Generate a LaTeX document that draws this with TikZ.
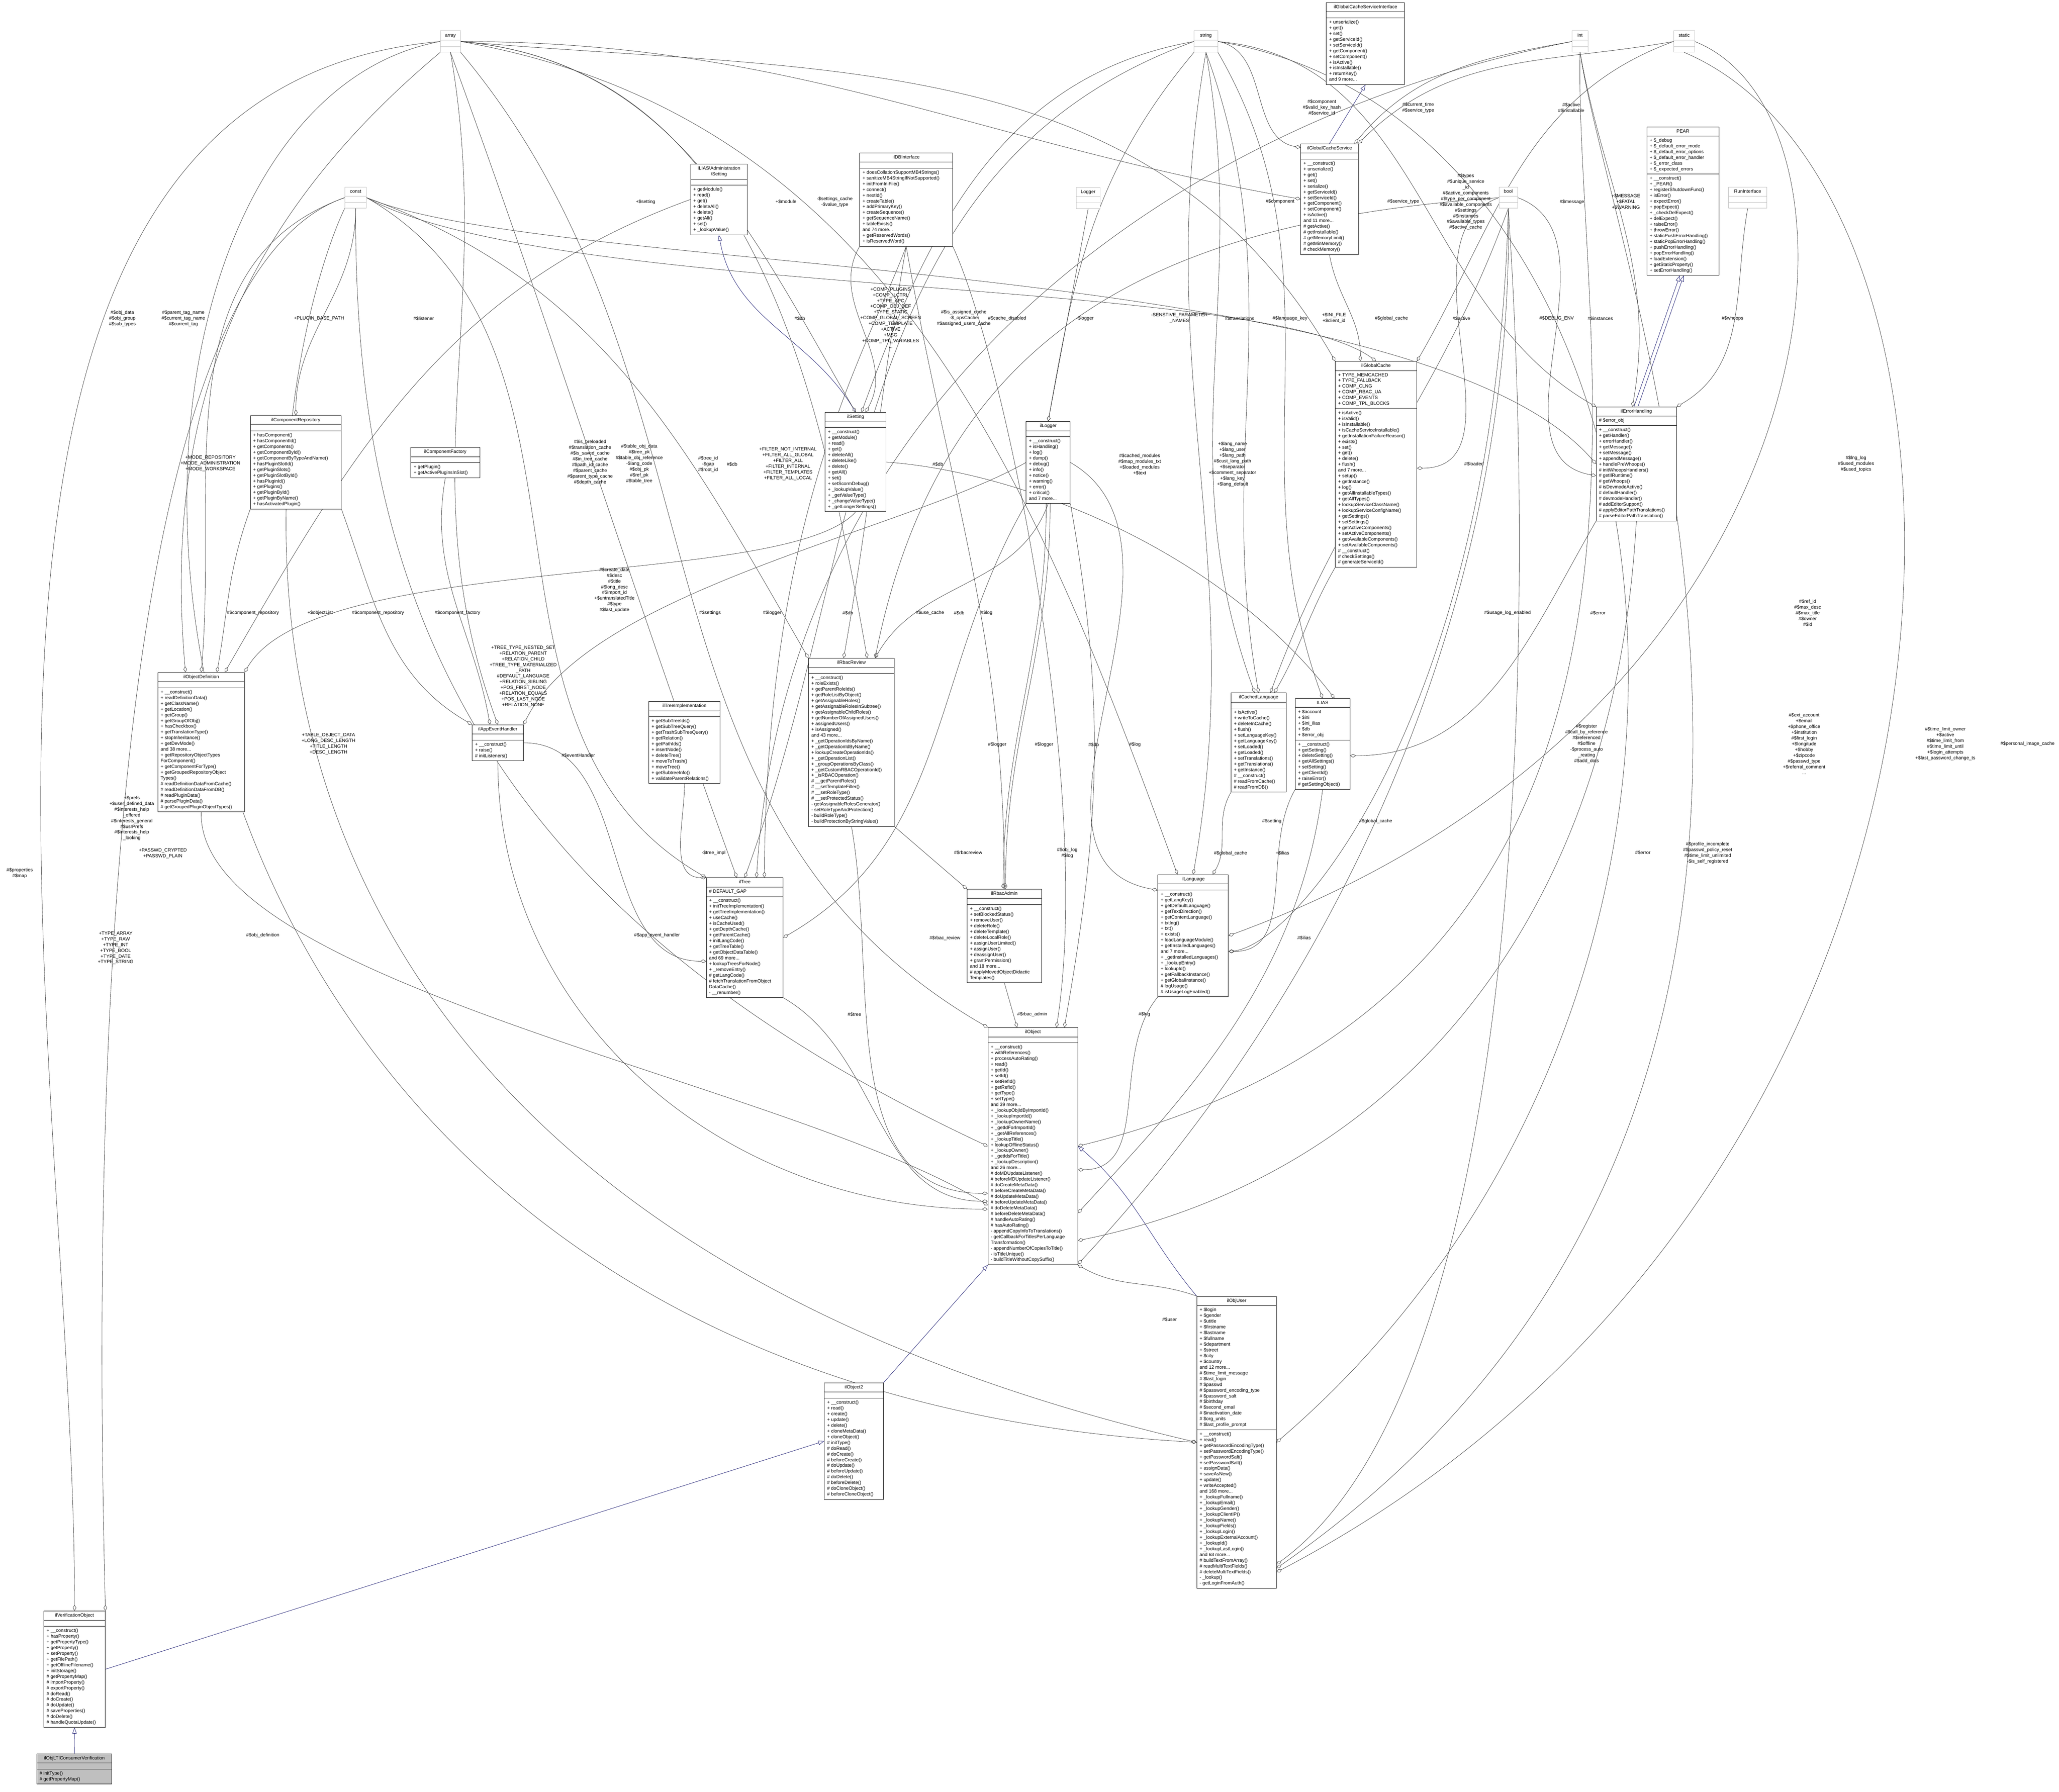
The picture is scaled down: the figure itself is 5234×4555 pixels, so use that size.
\documentclass[tikz,border=0pt]{standalone}
\usepackage{fontspec}
\setmainfont{Liberation Sans}
\usetikzlibrary{shapes.multipart,arrows.meta,backgrounds}
\definecolor{inhcol}{RGB}{25,25,112}
\definecolor{edgecol}{RGB}{64,64,64}
\definecolor{typecol}{RGB}{191,191,191}
\newcommand\ttl[1]{\begin{tabular}{@{}c@{}}#1\end{tabular}}
\newcommand\lst[1]{\begin{tabular}{@{}l@{}}#1\end{tabular}}
\newcommand\umlc[8][]{\node[cbox,#1,minimum width=#4*0.2pt] (#2) at (#3) {\ttl{#5}\nodepart{two}\lst{#6}\nodepart{three}\lst{#7#8}};}
\newcommand\typeb[4]{\node[cbox,draw=typecol,minimum width=#3*0.2pt] (#1) at (#2) {\ttl{#4}\nodepart{two}\lst{}\nodepart{three}\lst{}};}
\tikzset{
  cbox/.style={rectangle split,rectangle split parts=3,rectangle split part align={center,left,left},
    draw=black,line width=0.2pt,fill=white,anchor=north west,inner xsep=1.4pt,inner ysep=0.8pt,
    font=\fontsize{2.4}{2.92}\selectfont},
  lbl/.style={align=center,font=\fontsize{2.4}{2.92}\selectfont,inner sep=0.2pt},
  agg/.style={draw=edgecol,line width=0.18pt,-{Diamond[open,length=3pt,width=1.8pt]}},
  inh/.style={draw=inhcol,line width=0.18pt,-{Triangle[open,length=3pt,width=2.2pt]}}
}
\begin{document}
\begin{tikzpicture}[x=0.2pt,y=-0.2pt]
\useasboundingbox (0,0) rectangle (5234,4555);
% type boxes
\typeb{array}{1119,78}{51}{array}
\typeb{const}{876,475}{55}{const}
\typeb{string}{3035,78}{60}{string}
\typeb{int}{3996,78}{40}{int}
\typeb{static}{4254,78}{53}{static}
\typeb{bool}{3810,475}{47}{bool}
\typeb{Logger}{2735,476}{61}{Logger}
\typeb{RunInterface}{4393,475}{98}{RunInterface}
% classes
\umlc{gcsi}{3371,6}{199}{ilGlobalCacheServiceInterface}{}{+ unserialize()\\+ get()\\+ set()\\+ getServiceId()\\+ setServiceId()\\+ getComponent()\\+ setComponent()\\+ isActive()\\+ isInstallable()\\+ returnKey()\\and 9 more...}{}
\umlc{admset}{1755,417}{144}{ILIAS\textbackslash Administration\\\textbackslash Setting}{}{+ getModule()\\+ read()\\+ get()\\+ deleteAll()\\+ delete()\\+ getAll()\\+ set()\\+ \_lookupValue()}{}
\umlc{db}{2185,388}{236}{ilDBInterface}{}{+ doesCollationSupportMB4Strings()\\+ sanitizeMB4StringIfNotSupported()\\+ initFromIniFile()\\+ connect()\\+ nextId()\\+ createTable()\\+ addPrimaryKey()\\+ createSequence()\\+ getSequenceName()\\+ tableExists()\\and 74 more...\\+ getReservedWords()\\+ isReservedWord()}{}
\umlc{gcs}{3306,365}{146}{ilGlobalCacheService}{}{+ \_\_construct()\\+ unserialize()\\+ get()\\+ set()\\+ serialize()\\+ getServiceId()\\+ setServiceId()\\+ getComponent()\\+ setComponent()\\+ isActive()\\and 11 more...\\\# getActive()\\\# getInstallable()\\\# getMemoryLimit()\\\# getMinMemory()\\\# checkMemory()}{}
\umlc{pear}{4186,322}{183}{PEAR}{+ \$\_debug\\+ \$\_default\_error\_mode\\+ \$\_default\_error\_options\\+ \$\_default\_error\_handler\\+ \$\_error\_class\\+ \$\_expected\_errors}{+ \_\_construct()\\+ \_PEAR()\\+ registerShutdownFunc()\\+ isError()\\+ expectError()\\+ popExpect()\\+ \_checkDelExpect()\\+ delExpect()\\+ raiseError()\\+ throwError()\\+ staticPushErrorHandling()\\+ staticPopErrorHandling()\\+ pushErrorHandling()\\+ popErrorHandling()\\+ loadExtension()\\+ getStaticProperty()\\+ setErrorHandling()}{}
\umlc{setting}{2097,1048}{155}{ilSetting}{}{+ \_\_construct()\\+ getModule()\\+ read()\\+ get()\\+ deleteAll()\\+ deleteLike()\\+ delete()\\+ getAll()\\+ set()\\+ setScormDebug()\\+ \_lookupValue()\\+ \_getValueType()\\+ \_changeValueType()\\+ \_getLongerSettings()}{}
\umlc{gc}{3394,918}{207}{ilGlobalCache}{+ TYPE\_MEMCACHED\\+ TYPE\_FALLBACK\\+ COMP\_CLNG\\+ COMP\_RBAC\_UA\\+ COMP\_EVENTS\\+ COMP\_TPL\_BLOCKS}{+ isActive()\\+ isValid()\\+ isInstallable()\\+ isCacheServiceInstallable()\\+ getInstallationFailureReason()\\+ exists()\\+ set()\\+ get()\\+ delete()\\+ flush()\\and 7 more...\\+ setup()\\+ getInstance()\\+ log()\\+ getAllInstallableTypes()\\+ getAllTypes()\\}{+ lookupServiceClassName()\\+ lookupServiceConfigName()\\+ getSettings()\\+ setSettings()\\+ getActiveComponents()\\+ setActiveComponents()\\+ getAvailableComponents()\\+ setAvailableComponents()\\\# \_\_construct()\\\# checkSettings()\\\# generateServiceId()}
\umlc{logger}{2608,1071}{112}{ilLogger}{}{+ \_\_construct()\\+ isHandling()\\+ log()\\+ dump()\\+ debug()\\+ info()\\+ notice()\\+ warning()\\+ error()\\+ critical()\\and 7 more...}{}
\umlc{err}{4057,1034}{204}{ilErrorHandling}{\# \$error\_obj}{+ \_\_construct()\\+ getHandler()\\+ errorHandler()\\+ getMessage()\\+ setMessage()\\+ appendMessage()\\+ handlePreWhoops()\\\# initWhoopsHandlers()\\\# getIlRuntime()\\\# getWhoops()\\\# isDevmodeActive()\\\# defaultHandler()\\\# devmodeHandler()\\\# addEditorSupport()\\\# applyEditorPathTranslations()\\\# parseEditorPathTranslation()}{}
\umlc{comprepo}{636,1056}{231}{ilComponentRepository}{}{+ hasComponent()\\+ hasComponentId()\\+ getComponents()\\+ getComponentById()\\+ getComponentByTypeAndName()\\+ hasPluginSlotId()\\+ getPluginSlots()\\+ getPluginSlotById()\\+ hasPluginId()\\+ getPlugins()\\+ getPluginById()\\+ getPluginByName()\\+ hasActivatedPlugin()}{}
\umlc{compfac}{1044,1137}{175}{ilComponentFactory}{}{+ getPlugin()\\+ getActivePluginsInSlot()}{}
\umlc{objdef}{401,1709}{220}{ilObjectDefinition}{}{+ \_\_construct()\\+ readDefinitionData()\\+ getClassName()\\+ getLocation()\\+ getGroup()\\+ getGroupOfObj()\\+ hasCheckbox()\\+ getTranslationType()\\+ stopInheritance()\\+ getDevMode()\\and 38 more...\\+ getRepositoryObjectTypes\\ForComponent()\\+ getComponentForType()\\}{+ getGroupedRepositoryObject\\Types()\\\# readDefinitionDataFromCache()\\\# readDefinitionDataFromDB()\\\# readPluginData()\\\# parsePluginData()\\\# getGroupedPluginObjectTypes()}
\umlc{aeh}{1200,1842}{130}{ilAppEventHandler}{}{+ \_\_construct()\\+ raise()\\\# initListeners()}{}
\umlc{treeimpl}{1649,1783}{181}{ilTreeImplementation}{}{+ getSubTreeIds()\\+ getSubTreeQuery()\\+ getTrashSubTreeQuery()\\+ getRelation()\\+ getPathIds()\\+ insertNode()\\+ deleteTree()\\+ moveToTrash()\\+ moveTree()\\+ getSubtreeInfo()\\+ validateParentRelations()}{}
\umlc{rbacrev}{2055,1673}{218}{ilRbacReview}{}{+ \_\_construct()\\+ roleExists()\\+ getParentRoleIds()\\+ getRoleListByObject()\\+ getAssignableRoles()\\+ getAssignableRolesInSubtree()\\+ getAssignableChildRoles()\\+ getNumberOfAssignedUsers()\\+ assignedUsers()\\+ isAssigned()\\and 43 more...\\+ \_getOperationIdsByName()\\+ \_getOperationIdByName()\\+ lookupCreateOperationIds()\\}{+ \_getOperationList()\\+ \_groupOperationsByClass()\\+ \_getCustomRBACOperationId()\\+ \_isRBACOperation()\\\# \_\_getParentRoles()\\\# \_\_setTemplateFilter()\\\# \_\_setRoleType()\\\# \_\_setProtectedStatus()\\- getAssignableRolesGenerator()\\- setRoleTypeAndProtection()\\- buildRoleType()\\- buildProtectionByStringValue()}
\umlc{clang}{3129,1761}{140}{ilCachedLanguage}{}{+ isActive()\\+ writeToCache()\\+ deleteInCache()\\+ flush()\\+ setLanguageKey()\\+ getLanguageKey()\\+ setLoaded()\\+ getLoaded()\\+ setTranslations()\\+ getTranslations()\\+ getInstance()\\\# \_\_construct()\\\# readFromCache()\\\# readFromDB()}{}
\umlc{ilias}{3292,1775}{139}{ILIAS}{+ \$account\\+ \$ini\\+ \$ini\_ilias\\+ \$db\\+ \$error\_obj}{+ \_\_construct()\\+ getSetting()\\+ deleteSetting()\\+ getAllSettings()\\+ setSetting()\\+ getClientId()\\+ raiseError()\\\# getSettingObject()}{}
\umlc{tree}{1795,2231}{195}{ilTree}{\# DEFAULT\_GAP}{+ \_\_construct()\\+ initTreeImplementation()\\+ getTreeImplementation()\\+ useCache()\\+ isCacheUsed()\\+ getDepthCache()\\+ getParentCache()\\+ initLangCode()\\+ getTreeTable()\\+ getObjectDataTable()\\and 69 more...\\+ lookupTreesForNode()\\+ \_removeEntry()\\}{\# getLangCode()\\\# fetchTranslationFromObject\\DataCache()\\- \_\_renumber()}
\umlc{rbacadm}{2458,2260}{189}{ilRbacAdmin}{}{+ \_\_construct()\\+ setBlockedStatus()\\+ removeUser()\\+ deleteRole()\\+ deleteTemplate()\\+ deleteLocalRole()\\+ assignUserLimited()\\+ assignUser()\\+ deassignUser()\\+ grantPermission()\\and 18 more...\\\# applyMovedObjectDidactic\\Templates()}{}
\umlc{lang}{2943,2223}{179}{ilLanguage}{}{+ \_\_construct()\\+ getLangKey()\\+ getDefaultLanguage()\\+ getTextDirection()\\+ getContentLanguage()\\+ txtlng()\\+ txt()\\+ exists()\\+ loadLanguageModule()\\+ getInstalledLanguages()\\and 7 more...\\+ \_getInstalledLanguages()\\+ \_lookupEntry()\\+ lookupId()\\}{+ getFallbackInstance()\\+ getGlobalInstance()\\\# logUsage()\\\# isUsageLogEnabled()}
\umlc{obj}{2511,2612}{228}{ilObject}{}{+ \_\_construct()\\+ withReferences()\\+ processAutoRating()\\+ read()\\+ getId()\\+ setId()\\+ setRefId()\\+ getRefId()\\+ getType()\\+ setType()\\and 39 more...\\+ \_lookupObjIdByImportId()\\+ \_lookupImportId()\\+ \_lookupOwnerName()\\+ \_getIdForImportId()\\+ \_getAllReferences()\\+ \_lookupTitle()\\+ lookupOfflineStatus()\\+ \_lookupOwner()\\}{+ \_getIdsForTitle()\\+ \_lookupDescription()\\and 26 more...\\\# doMDUpdateListener()\\\# beforeMDUpdateListener()\\\# doCreateMetaData()\\\# beforeCreateMetaData()\\\# doUpdateMetaData()\\\# beforeUpdateMetaData()\\\# doDeleteMetaData()\\\# beforeDeleteMetaData()\\\# handleAutoRating()\\\# hasAutoRating()\\- appendCopyInfoToTranslations()\\- getCallbackForTitlesPerLanguage\\Transformation()\\- appendNumberOfCopiesToTitle()\\- isTitleUnique()\\- buildTitleWithoutCopySuffix()}
\umlc{objtwo}{2095,3515}{150}{ilObject2}{}{+ \_\_construct()\\+ read()\\+ create()\\+ update()\\+ delete()\\+ cloneMetaData()\\+ cloneObject()\\\# initType()\\\# doRead()\\\# doCreate()\\\# beforeCreate()\\\# doUpdate()\\\# beforeUpdate()\\\# doDelete()\\\# beforeDelete()\\\# doCloneObject()\\\# beforeCloneObject()}{}
\umlc{user}{3042,3295}{202}{ilObjUser}{+ \$login\\+ \$gender\\+ \$utitle\\+ \$firstname\\+ \$lastname\\+ \$fullname\\+ \$department\\+ \$street\\+ \$city\\+ \$country\\and 12 more...\\\# \$time\_limit\_message\\\# \$last\_login\\\# \$passwd\\\# \$password\_encoding\_type\\\# \$password\_salt\\\# \$birthday\\\# \$second\_email\\\# \$inactivation\_date\\\# \$org\_units\\\# \$last\_profile\_prompt}{+ \_\_construct()\\+ read()\\+ getPasswordEncodingType()\\+ setPasswordEncodingType()\\+ getPasswordSalt()\\+ setPasswordSalt()\\+ assignData()\\+ saveAsNew()\\+ update()\\+ writeAccepted()\\and 168 more...\\+ \_lookupFullname()\\+ \_lookupEmail()\\}{+ \_lookupGender()\\+ \_lookupClientIP()\\+ \_lookupName()\\+ \_lookupFields()\\+ \_lookupLogin()\\+ \_lookupExternalAccount()\\+ \_lookupId()\\+ \_lookupLastLogin()\\and 63 more...\\\# buildTextFromArray()\\\# readMultiTextFields()\\\# deleteMultiTextFields()\\- \_lookup()\\- getLoginFromAuth()}
\umlc{verif}{111,4095}{156}{ilVerificationObject}{}{+ \_\_construct()\\+ hasProperty()\\+ getPropertyType()\\+ getProperty()\\+ setProperty()\\+ getFilePath()\\+ getOfflineFilename()\\+ initStorage()\\\# getPropertyMap()\\\# importProperty()\\\# exportProperty()\\\# doRead()\\\# doCreate()\\\# doUpdate()\\\# saveProperties()\\\# doDelete()\\\# handleQuotaUpdate()}{}
\umlc[fill=typecol]{lti}{93,4458}{191}{ilObjLTIConsumerVerification}{}{\# initType()\\\# getPropertyMap()}{}
% labels
\node[lbl] at (311,810) {\#\$obj\_data\\\#\$obj\_group\\\#\$sub\_types};
\node[lbl] at (466,810) {\#\$parent\_tag\_name\\\#\$current\_tag\_name\\\#\$current\_tag};
\node[lbl] at (811,810) {+PLUGIN\_BASE\_PATH};
\node[lbl] at (1077,810) {\#\$listener};
\node[lbl] at (1641,513) {+\$setting};
\node[lbl] at (1998,513) {+\$module};
\node[lbl] at (2122,513) {-\$settings\_cache\\-\$value\_type};
\node[lbl] at (2033,810) {\#\$db};
\node[lbl] at (2264,808) {+COMP\_PLUGINS\\+COMP\_ILCTRL\\+TYPE\_APC\\+COMP\_OBJ\_DEF\\+TYPE\_STATIC\\+COMP\_GLOBAL\_SCREEN\\+COMP\_TEMPLATE\\+ACTIVE\\+MSG\\+COMP\_TPL\_VARIABLES\\...};
\node[lbl] at (2450,809) {\#\$is\_assigned\_cache\\-\$\_opsCache\\\#\$assigned\_users\_cache};
\node[lbl] at (2560,810) {\#\$cache\_disabled};
\node[lbl] at (2758,810) {-\$logger};
\node[lbl] at (2998,809) {-SENSTIVE\_PARAMETER\\\_NAMES};
\node[lbl] at (3151,810) {\#\$translations};
\node[lbl] at (3279,810) {\#\$language\_key};
\node[lbl] at (3391,809) {+\$INI\_FILE\\+\$client\_id};
\node[lbl] at (3537,810) {\#\$global\_cache};
\node[lbl] at (3715,810) {\#\$active};
\node[lbl] at (3957,810) {\#\$DEBUG\_ENV};
\node[lbl] at (4068,810) {\#\$instances};
\node[lbl] at (4404,810) {\#\$whoops};
\node[lbl] at (3360,274) {\#\$component\\\#\$valid\_key\_hash\\\#\$service\_id};
\node[lbl] at (3605,274) {\#\$current\_time\\\#\$service\_type};
\node[lbl] at (3994,274) {\#\$active\\\#\$installable};
\node[lbl] at (3254,512) {\#\$component};
\node[lbl] at (3567,512) {\#\$service\_type};
\node[lbl] at (3726,513) {\#\$types\\\#\$unique\_service\\\_id\\\#\$active\_components\\\#\$type\_per\_component\\\#\$available\_components\\\#\$settings\\\#\$instances\\\#\$available\_types\\\#\$active\_cache};
\node[lbl] at (3996,513) {\#\$message};
\node[lbl] at (4133,513) {+\$MESSAGE\\+\$FATAL\\+\$WARNING};
\node[lbl] at (535,1178) {+MODE\_REPOSITORY\\+MODE\_ADMINISTRATION\\+MODE\_WORKSPACE};
\node[lbl] at (1500,1175) {\#\$is\_preloaded\\\#\$translation\_cache\\\#\$is\_saved\_cache\\\#\$in\_tree\_cache\\\#\$path\_id\_cache\\\#\$parent\_cache\\\#\$parent\_type\_cache\\\#\$depth\_cache};
\node[lbl] at (1625,1179) {\#\$table\_obj\_data\\\#\$tree\_pk\\\#\$table\_obj\_reference\\-\$lang\_code\\\#\$obj\_pk\\\#\$ref\_pk\\\#\$table\_tree};
\node[lbl] at (1800,1180) {\#\$tree\_id\\-\$gap\\\#\$root\_id};
\node[lbl] at (1861,1180) {\#\$db};
\node[lbl] at (2003,1179) {+FILTER\_NOT\_INTERNAL\\+FILTER\_ALL\_GLOBAL\\+FILTER\_ALL\\+FILTER\_INTERNAL\\+FILTER\_TEMPLATES\\+FILTER\_ALL\_LOCAL};
\node[lbl] at (2384,1180) {\#\$db};
\node[lbl] at (2897,1180) {\#\$cached\_modules\\\#\$map\_modules\_txt\\+\$loaded\_modules\\+\$text};
\node[lbl] at (3133,1180) {+\$lang\_name\\+\$lang\_user\\+\$lang\_path\\\#\$cust\_lang\_path\\+\$separator\\+\$comment\_separator\\+\$lang\_key\\+\$lang\_default};
\node[lbl] at (3747,1179) {\#\$loaded};
\node[lbl] at (4718,1179) {\#\$lng\_log\\\#\$used\_modules\\\#\$used\_topics};
\node[lbl] at (643,1558) {\#\$component\_repository};
\node[lbl] at (814,1558) {+\$objectList};
\node[lbl] at (961,1558) {\#\$component\_repository};
\node[lbl] at (1163,1558) {\#\$component\_factory};
\node[lbl] at (1330,1720) {+TREE\_TYPE\_NESTED\_SET\\+RELATION\_PARENT\\+RELATION\_CHILD\\+TREE\_TYPE\_MATERIALIZED\\\_PATH\\\#DEFAULT\_LANGUAGE\\+RELATION\_SIBLING\\+POS\_FIRST\_NODE\\+RELATION\_EQUALS\\+POS\_LAST\_NODE\\+RELATION\_NONE};
\node[lbl] at (1562,1500) {\#\$create\_date\\\#\$desc\\\#\$title\\\#\$long\_desc\\\#\$import\_id\\+\$untranslatedTitle\\\#\$type\\\#\$last\_update};
\node[lbl] at (1805,1558) {\#\$settings};
\node[lbl] at (1963,1558) {\#\$logger};
\node[lbl] at (2155,1558) {\#\$db};
\node[lbl] at (2364,1558) {\#\$use\_cache};
\node[lbl] at (2438,1558) {\#\$db};
\node[lbl] at (2508,1558) {\#\$log};
\node[lbl] at (3832,1558) {\#\$usage\_log\_enabled};
\node[lbl] at (4062,1558) {\#\$error};
\node[lbl] at (4595,1558) {\#\$ref\_id\\\#\$max\_desc\\\#\$max\_title\\\#\$owner\\\#\$id};
\node[lbl] at (835,1891) {+TABLE\_OBJECT\_DATA\\+LONG\_DESC\_LENGTH\\+TITLE\_LENGTH\\+DESC\_LENGTH};
\node[lbl] at (1470,1920) {\#\$eventHandler};
\node[lbl] at (2535,1893) {\#\$logger};
\node[lbl] at (2654,1893) {\#\$logger};
\node[lbl] at (2780,1893) {\#\$db};
\node[lbl] at (2885,1893) {\#\$log};
\node[lbl] at (4033,1891) {\#\$register\\\#\$call\_by\_reference\\\#\$referenced\\\#\$offline\\-\$process\_auto\\\_reating\\\#\$add\_dots};
\node[lbl] at (4586,1891) {\#\$ext\_account\\+\$email\\+\$phone\_office\\+\$institution\\\#\$first\_login\\+\$longitude\\+\$hobby\\+\$zipcode\\\#\$passwd\_type\\+\$referral\_comment\\...};
\node[lbl] at (4945,1891) {\#\$time\_limit\_owner\\+\$active\\\#\$time\_limit\_from\\\#\$time\_limit\_until\\+\$login\_attempts\\+\$last\_password\_change\_ts};
\node[lbl] at (5154,1891) {\#\$personal\_image\_cache};
\node[lbl] at (335,2080) {+\$prefs\\+\$user\_defined\_data\\\#\$interests\_help\\\_offered\\\#\$interests\_general\\\#\$usrPrefs\\\#\$interests\_help\\\_looking};
\node[lbl] at (414,2170) {+PASSWD\_CRYPTED\\+PASSWD\_PLAIN};
\node[lbl] at (50,2220) {\#\$properties\\\#\$map};
\node[lbl] at (294,2410) {+TYPE\_ARRAY\\+TYPE\_RAW\\+TYPE\_INT\\+TYPE\_BOOL\\+TYPE\_DATE\\+TYPE\_STRING};
\node[lbl] at (1814,2168) {-\$tree\_impl};
\node[lbl] at (2461,2168) {\#\$rbacreview};
\node[lbl] at (2713,2168) {\#\$obj\_log\\\#\$log};
\node[lbl] at (3128,2169) {\#\$global\_cache};
\node[lbl] at (3260,2169) {+\$ilias};
\node[lbl] at (3233,2088) {\#\$setting};
\node[lbl] at (3497,2088) {\#\$global\_cache};
\node[lbl] at (4176,2168) {\#\$error};
\node[lbl] at (4341,2168) {\#\$profile\_incomplete\\\#\$passwd\_policy\_reset\\\#\$time\_limit\_unlimited\\-\$is\_self\_registered};
\node[lbl] at (668,2378) {\#\$obj\_definition};
\node[lbl] at (1670,2378) {\#\$app\_event\_handler};
\node[lbl] at (2402,2385) {\#\$rbac\_review};
\node[lbl] at (3315,2384) {\#\$ilias};
\node[lbl] at (2172,2579) {\#\$tree};
\node[lbl] at (2624,2579) {\#\$rbac\_admin};
\node[lbl] at (2909,2579) {\#\$lng};
\node[lbl] at (2973,3355) {\#\$user};
% edges
\begin{pgfonlayer}{background}
\draw[inh] (lti.north) -- (verif.south);
\draw[inh] (verif.east) -- (objtwo.west);
\draw[inh] (objtwo.north east) -- (obj.south west);
\draw[inh] (user.north west) to[out=130,in=-40] (obj.east);
\draw[inh] (setting.north) to[out=120,in=-80] (admset.south);
\draw[inh] (gcs.north) -- (gcsi.south);
\draw[inh] ([xshift=-1.2pt]err.north) -- ([xshift=-1.6pt]pear.south);
\draw[inh] ([xshift=0.8pt]err.north) -- ([xshift=0.4pt]pear.south);
% array
\draw[agg] (array.west) to[out=185,in=90,looseness=0.9] (verif.north);
\draw[agg] (array.west) .. controls (60,300) and (60,3500) .. (user.west);
\draw[agg] (array.south west) to[out=220,in=95] ([xshift=-8pt]objdef.north);
\draw[agg] (array.south) to[out=-80,in=110] (aeh.north);
\draw[agg] (array.south) to[out=-70,in=110] ([xshift=-4pt]tree.north);
\draw[agg] (array.south east) to[out=-50,in=150] (obj.north west);
\draw[agg] (array.east) to[out=-5,in=120] (setting.north);
\draw[agg] (array.east) to[out=-5,in=100] ([xshift=8pt]rbacrev.north);
\draw[agg] (array.east) to[out=0,in=170] (gcs.west);
\draw[agg] (array.east) to[out=-5,in=120] (gc.north west);
\draw[agg] (array.east) to[out=-10,in=110] ([xshift=-8pt]lang.north);
% const
\draw[agg] (const.west) to[out=200,in=85] (objdef.north);
\draw[agg] (const.south) to[out=-90,in=90] (comprepo.north);
\draw[agg] (const.south west) .. controls (700,900) and (200,3000) .. (user.west);
\draw[agg] (const.west) .. controls (300,700) and (230,2600) .. (verif.north east);
\draw[agg] (const.south) .. controls (900,1500) and (1200,2300) .. (obj.west);
\draw[agg] (const.east) to[out=-30,in=150] (tree.north west);
\draw[agg] (const.east) to[out=-20,in=120] (rbacrev.north west);
\draw[agg] (const.east) .. controls (1400,760) and (3200,700) .. (gc.north);
\draw[agg] (const.east) .. controls (1400,700) and (3600,650) .. (err.west);
% string
\draw[agg] (string.west) to[out=190,in=70] ([xshift=3pt]setting.north);
\draw[agg] (string.west) to[out=200,in=70] (tree.north);
\draw[agg] (string.south) to[out=-100,in=80] (lang.north);
\draw[agg] (string.south) to[out=-80,in=110] ([xshift=-2pt]clang.north);
\draw[agg] (string.south) to[out=-70,in=100] (clang.north);
\draw[agg] (string.south east) to[out=-60,in=110] (ilias.north);
\draw[agg] (string.east) to[out=-10,in=170] ([yshift=-2pt]gcs.north west);
\draw[agg] (string.east) to[out=-5,in=150] (err.north west);
\draw[agg] (string.east) .. controls (4300,300) and (4600,2500) .. (user.east);
\draw[agg] (string.south west) to[out=-130,in=80] (logger.north);
% int
\draw[agg] (int.south) .. controls (4000,900) and (4400,2500) .. (obj.east);
\draw[agg] (int.south) .. controls (4100,700) and (4950,2800) .. ([yshift=-64pt]user.east);
\draw[agg] (int.west) to[out=190,in=50] ([xshift=-2pt]gcs.north east);
\draw[agg] (int.south) to[out=-80,in=80] ([xshift=-2pt]err.north);
\draw[agg] (int.west) .. controls (3000,300) and (2000,1000) .. ([xshift=6pt]tree.north);
% static
\draw[agg] (static.west) to[out=200,in=60] (gc.north east);
\draw[agg] (static.south) .. controls (5150,500) and (5150,3000) .. ([yshift=-66pt]user.east);
\draw[agg] (static.east) .. controls (4800,300) and (4700,1800) .. (lang.east);
\draw[agg] (static.west) to[out=190,in=45] (gcs.north east);
% bool
\draw[agg] (bool.south) .. controls (3850,1400) and (3500,2400) .. ([yshift=-60pt]obj.east);
\draw[agg] (bool.south) .. controls (3900,1500) and (3900,3500) .. ([yshift=-62pt]user.east);
\draw[agg] (bool.west) to[out=200,in=0] ([yshift=-2pt]gc.east);
\draw[agg] (bool.east) to[out=-20,in=170] ([yshift=-6pt]err.west);
\draw[agg] (bool.south) to[out=-110,in=70] ([xshift=6pt]clang.north);
\draw[agg] (bool.south) .. controls (3800,1800) and (3300,2400) .. ([yshift=-8pt]lang.east);
\draw[agg] (bool.west) .. controls (3000,560) and (2400,800) .. ([xshift=12pt]rbacrev.north);
% db
\draw[agg] (db.south west) to[out=-120,in=60] ([xshift=5pt]setting.north);
\draw[agg] (db.south) .. controls (2200,900) and (1950,1300) .. ([xshift=10pt]tree.north);
\draw[agg] (db.south) to[out=-100,in=80] ([xshift=-4pt]rbacrev.north);
\draw[agg] (db.south) to[out=-80,in=90] (rbacadm.north);
\draw[agg] (db.south east) .. controls (2550,900) and (2780,2000) .. ([xshift=12pt]obj.north);
% setting
\draw[agg] (setting.south) .. controls (2000,1500) and (800,1400) .. (objdef.north east);
\draw[agg] (setting.east) .. controls (2600,1200) and (3100,1400) .. ([xshift=6pt]ilias.north);
\draw[agg] (admset.west) to[out=200,in=60] ([xshift=12pt]objdef.north);
% logger
\draw[agg] (logger.south west) to[out=-120,in=30] (tree.east);
\draw[agg] (logger.south) to[out=-110,in=60] ([xshift=12pt]rbacrev.north);
\draw[agg] ([xshift=-1pt]logger.south) to[out=-90,in=90] ([xshift=-0.6pt]rbacadm.north);
\draw[agg] ([xshift=1pt]logger.south) to[out=-90,in=90] ([xshift=0.6pt]rbacadm.north);
\draw[agg] (logger.south east) to[out=-80,in=80] ([xshift=16pt]obj.north);
\draw[agg] (logger.east) to[out=-30,in=170] ([yshift=-8pt]lang.north west);
\draw[agg] (logger.west) .. controls (2300,1350) and (1500,1500) .. (aeh.north east);
\draw[agg] (Logger.south) -- (logger.north);
% components etc.
\draw[agg] (comprepo.south west) to[out=-110,in=80] ([xshift=8pt]objdef.north);
\draw[agg] (comprepo.south east) to[out=-70,in=150] (aeh.north west);
\draw[agg] (compfac.south) to[out=-100,in=100] ([xshift=-4pt]aeh.north);
\draw[agg] (objdef.south) .. controls (500,2500) and (2000,2750) .. ([yshift=-30pt]obj.west);
\draw[agg] (aeh.south) to[out=-90,in=180] ([yshift=-32pt]obj.west);
\draw[agg] (aeh.east) to[out=0,in=180] ([yshift=-12pt]tree.west);
\draw[agg] (treeimpl.south) to[out=-90,in=180] (tree.north west);
\draw[agg] (tree.south east) to[out=-30,in=180] ([yshift=-28pt]obj.west);
\draw[agg] (rbacrev.south east) -- (rbacadm.north west);
\draw[agg] (rbacrev.south) to[out=-80,in=180] ([yshift=-24pt]obj.west);
\draw[agg] (rbacadm.south) -- ([xshift=-8pt]obj.north);
\draw[agg] (lang.south west) to[out=-130,in=0] ([yshift=-12pt]obj.east);
\draw[agg] (clang.south west) to[out=-120,in=60] ([xshift=10pt]lang.north);
\draw[agg] (ilias.south west) to[out=-120,in=0] ([yshift=-8pt]lang.east);
\draw[agg] (ilias.south) .. controls (3300,2500) and (3000,2800) .. ([yshift=-34pt]obj.east);
\draw[agg] (gcs.south) to[out=-80,in=90] ([xshift=-8pt]gc.north);
\draw[agg] (gc.south west) to[out=-120,in=60] ([xshift=8pt]clang.north);
\draw[agg] (err.south west) to[out=-120,in=0] ([yshift=-6pt]ilias.east);
\draw[agg] (err.south) .. controls (4100,2400) and (3500,3000) .. ([yshift=-48pt]obj.east);
\draw[agg] (RunInterface.south) to[out=-100,in=30] (err.north east);
\draw[agg] (user.north west) to[out=160,in=-30] (obj.south east);
\end{pgfonlayer}
\end{tikzpicture}
\end{document}
